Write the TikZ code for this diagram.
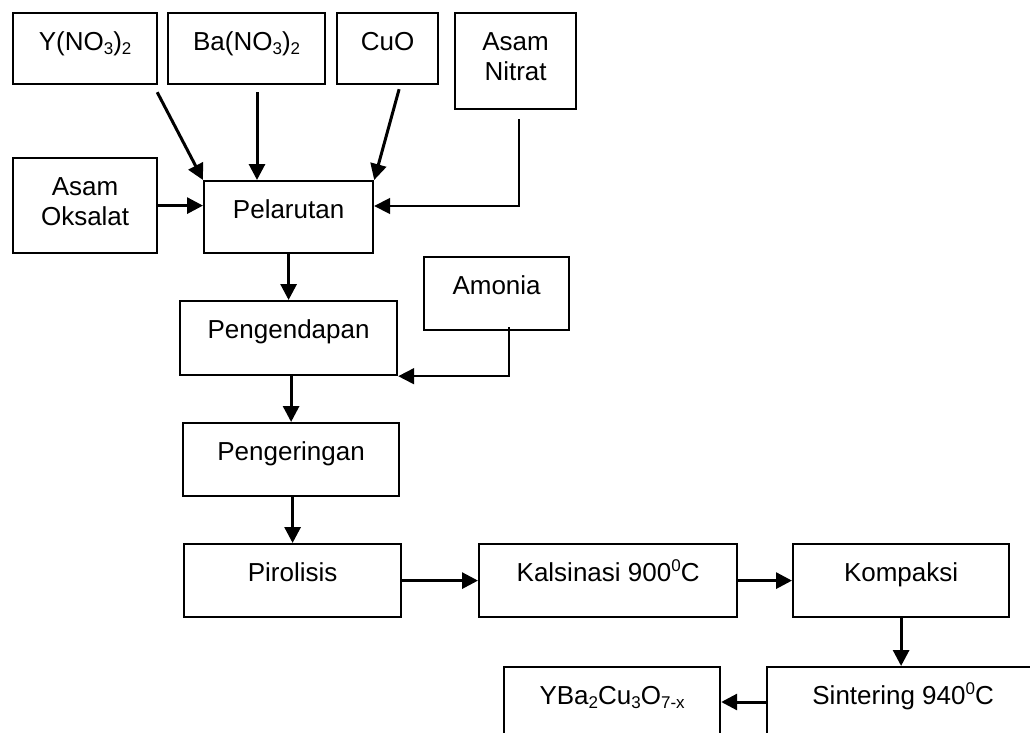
\documentclass[tikz,border=0pt]{standalone}
\usepackage{fontspec}
\setmainfont{Liberation Sans}
\usetikzlibrary{arrows.meta,calc}
\newcommand\sbx[1]{\raisebox{-4pt}{\fontsize{17}{17}\selectfont #1}}
\newcommand\spx[1]{\raisebox{10pt}{\fontsize{17}{17}\selectfont #1}}
\newcommand\twoline[2]{\vtop{\halign{\hfil##\hfil\cr #1\cr #2\cr}}}
\begin{document}
\begin{tikzpicture}[x=1pt,y=-1pt,
  box/.style={draw, line width=2.2pt, inner sep=0pt, anchor=north west,
    font=\fontsize{26}{30}\selectfont, text height=37pt},
  arr/.style={line width=3pt, -{Triangle[length=16pt,width=16pt]}},
  thinarr/.style={line width=1.8pt, -{Triangle[length=16pt,width=16pt]}}]
\useasboundingbox (0,0) rectangle (1030,733);
\clip (0,0) rectangle (1030,733);
% top row
\node[box, minimum width=144pt, text depth=34pt] (y) at (12,12) {Y(NO\sbx{3})\sbx{2}};
\node[box, minimum width=157pt, text depth=34pt] (ba) at (167,12) {Ba(NO\sbx{3})\sbx{2}};
\node[box, minimum width=101pt, text depth=34pt] (cuo) at (336,12) {CuO};
\node[box, minimum width=121pt, text depth=59pt] (nit) at (454,12) {\twoline{Asam}{Nitrat}};
% second row
\node[box, minimum width=144pt, text depth=58pt] (oks) at (12,157) {\twoline{Asam}{Oksalat}};
\node[box, minimum width=169pt, text depth=35pt] (pel) at (203,180) {Pelarutan};
\node[box, minimum width=145pt, text depth=36pt] (amo) at (423,256) {Amonia};
\node[box, minimum width=217pt, text depth=37pt] (pgd) at (179,300) {Pengendapan};
\node[box, minimum width=216pt, text depth=36pt] (pgr) at (182,422) {Pengeringan};
\node[box, minimum width=217pt, text depth=36pt] (pir) at (183,543) {Pirolisis};
\node[box, minimum width=258pt, text depth=36pt] (kal) at (478,543) {Kalsinasi 900\spx{0}C};
\node[box, minimum width=216pt, text depth=36pt] (kom) at (792,543) {Kompaksi};
\node[box, minimum width=272pt, text depth=44pt] (sin) at (766,666) {Sintering 940\spx{0}C};
\node[box, minimum width=216pt, text depth=44pt] (ybc) at (503,666) {YBa\sbx{2}Cu\sbx{3}O\sbx{7-x}};
% connectors
\draw[arr] ($(y.south east)+(-1,7)$) -- (pel.north west);
\coordinate (bas) at ($(ba.south west)+(90,7)$);
\draw[arr] (bas) -- (bas |- pel.north);
\draw[arr] ($(cuo.south)+(11.5,4)$) -- (pel.north east);
\coordinate (nitin) at ($(pel.north east)+(0,26)$);
\draw[thinarr] ($(nit.south)+(3.5,9)$) |- (nitin);
\draw[arr] (oks.east) -- (oks.east -| pel.west);
\draw[arr] (pel.south) -- (pel.south |- pgd.north);
\draw[thinarr] ($(amo.south)+(12.5,-4)$) |- (pgd.south east);
\draw[arr] (pgr.north |- pgd.south) -- (pgr.north);
\draw[arr] (pir.north |- pgr.south) -- (pir.north);
\draw[arr] (pir.east) -- (pir.east -| kal.west);
\draw[arr] (kal.east) -- (kom.west);
\draw[arr] (kom.south) -- (kom.south |- sin.north);
\coordinate (s1) at ($(sin.north west)+(0,36)$);
\draw[arr] (s1) -- (s1 -| ybc.east);
\end{tikzpicture}
\end{document}
